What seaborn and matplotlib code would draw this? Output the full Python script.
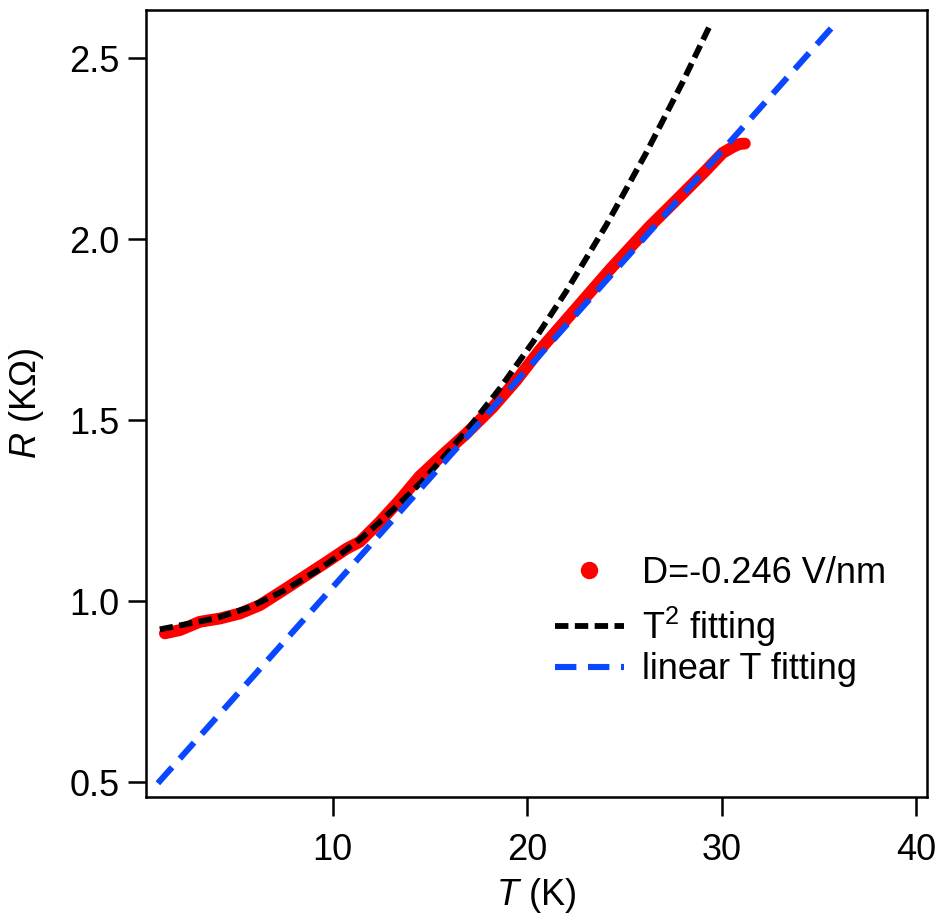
import matplotlib
matplotlib.use("Agg")
import matplotlib.pyplot as plt
import seaborn as sns
import pandas as pd
import numpy as np
from matplotlib.lines import Line2D

# ---- data ----
data_T = [1.36, 2.13, 3.16, 4.19, 5.22, 6.25, 7.45, 8.65, 9.68, 10.71, 11.39,
          12.42, 13.44, 14.47, 15.67, 16.87, 18.24, 19.44, 20.64, 21.84, 23.04,
          24.24, 25.44, 26.3, 27.15, 28.18, 29.2, 30.05, 30.6, 30.93, 31.2]
data_R = [0.911, 0.920, 0.943, 0.952, 0.966, 0.989, 1.030, 1.072, 1.108, 1.145, 1.164,
          1.219, 1.279, 1.345, 1.405, 1.463, 1.536, 1.610, 1.693, 1.767, 1.841,
          1.915, 1.985, 2.035, 2.080, 2.135, 2.190, 2.238, 2.255, 2.263, 2.264]

t2_T = [1.1, 4.0, 5.7, 7.45, 9.16, 10.36, 11.4, 12.4, 13.4, 14.5, 15.5, 16.9,
        18.6, 20.3, 22.0, 24.06, 26.1, 28.0, 29.4]
t2_R = [0.922, 0.953, 0.983, 1.028, 1.083, 1.128, 1.171, 1.218, 1.268, 1.326, 1.385, 1.472,
        1.588, 1.716, 1.855, 2.038, 2.236, 2.434, 2.590]

lin_T = [1.0, 35.65]
lin_R = [0.497, 2.583]

x_ticks = [10, 20, 30, 40]
y_ticks = [0.5, 1.0, 1.5, 2.0, 2.5]

sns.set_theme(style="ticks")
plt.rcParams['font.family'] = ['Liberation Sans', 'DejaVu Sans']
plt.rcParams['mathtext.fontset'] = 'custom'
plt.rcParams['mathtext.rm'] = 'Liberation Sans'
plt.rcParams['mathtext.it'] = 'Liberation Sans:italic'
plt.rcParams['text.color'] = 'black'
plt.rcParams['axes.labelcolor'] = 'black'

fig = plt.figure(figsize=(9.4, 9.21), dpi=100)
ax = fig.add_axes([146/940, 1-797/921, (927-146)/940, (797-10)/921])

df_data = pd.DataFrame({"T": data_T, "R": data_R})
df_t2 = pd.DataFrame({"T": t2_T, "R": t2_R})
df_lin = pd.DataFrame({"T": lin_T, "R": lin_R})

red = "#ff0000"
blue = "#0a48ff"
black_dash = [2.3, 1.1]
blue_dash = [3.5, 1.9]

sns.lineplot(data=df_data, x="T", y="R", ax=ax, color=red, linewidth=8.5,
             solid_capstyle="round", solid_joinstyle="round", sort=False, zorder=2)
sns.lineplot(data=df_t2, x="T", y="R", ax=ax, color="black", linewidth=4.2,
             sort=False, zorder=3)
sns.lineplot(data=df_lin, x="T", y="R", ax=ax, color=blue, linewidth=4.4,
             sort=False, zorder=4)
ax.lines[1].set_dashes(black_dash)
ax.lines[2].set_dashes(blue_dash)

ax.set_xlim(0.39, 40.57)
ax.set_ylim(0.459, 2.633)
ax.set_xticks(x_ticks)
ax.set_xticklabels([str(v) for v in x_ticks])
ax.set_yticks(y_ticks)
ax.set_yticklabels([f"{v:.1f}" for v in y_ticks])

for s in ax.spines.values():
    s.set_visible(True)
    s.set_linewidth(1.8)
    s.set_color("black")
ax.tick_params(axis='both', direction='out', width=1.8, color='black',
               labelsize=26, labelcolor='black')
ax.tick_params(axis='x', length=14, pad=12)
ax.tick_params(axis='y', length=13, pad=6)

ax.set_xlabel(r"$\mathit{T}$ (K)", fontsize=26, labelpad=6, color='black')
ax.set_ylabel(r"$\mathit{R}$ (KΩ)", fontsize=26, labelpad=17, color='black')

common = dict(bbox_transform=fig.transFigure, frameon=False, fontsize=26,
              handlelength=1.9, handletextpad=0.5, borderaxespad=0, borderpad=0,
              labelcolor='black')

leg1 = ax.legend([Line2D([], [], color=red, marker='o', linestyle='None', markersize=11.5)],
                 ["D=-0.246 V/nm"], loc='center left',
                 bbox_to_anchor=(555/940, 1-573/921), **common)
ax.add_artist(leg1)

handles2 = [
    Line2D([], [], color='black', linewidth=4.2, dashes=black_dash),
    Line2D([], [], color=blue, linewidth=4.4, dashes=blue_dash),
]
labels2 = [r"T$^2$ fitting", "linear T fitting"]
ax.legend(handles2, labels2, loc='center left', bbox_to_anchor=(555/940, 1-646/921),
          labelspacing=0.1, **common)

fig.savefig("out.png", dpi=100)
